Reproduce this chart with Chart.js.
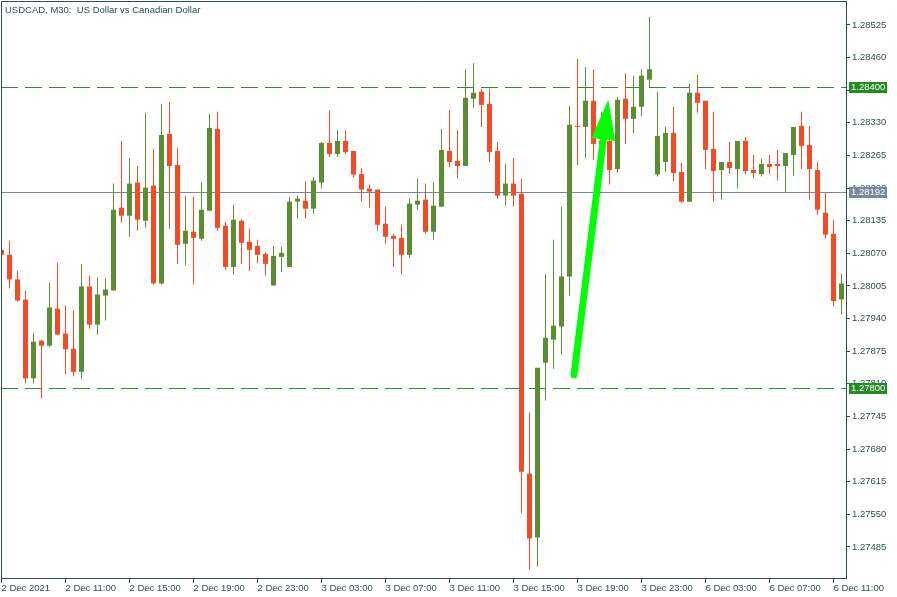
<!DOCTYPE html>
<html>
<head>
<meta charset="utf-8">
<script src="https://cdn.jsdelivr.net/npm/chart.js@4.4.0/dist/chart.umd.min.js"></script>
<style>
  html, body { margin: 0; padding: 0; background: #fff; }
</style>
</head>
<body>
<canvas id="chart" width="897" height="597"></canvas>
<script>
// USDCAD M30 candles, 2 Dec 07:00 .. 6 Dec 11:30 (index = candle number)
const opens = [
  1.28077, 1.28067, 1.28018, 1.27978, 1.27821, 1.27896, 1.27886, 1.27960, 1.27910, 1.27880,
  1.27834, 1.28004, 1.27928, 1.27986, 1.27996, 1.28161, 1.28145, 1.28211, 1.28135, 1.28205,
  1.28010, 1.28308, 1.28246, 1.28089, 1.28113, 1.28099, 1.28155, 1.28318, 1.28125, 1.28043,
  1.28135, 1.28093, 1.28085, 1.28069, 1.28006, 1.28063, 1.28043, 1.28173, 1.28175, 1.28159,
  1.28211, 1.28290, 1.28268, 1.28294, 1.28274, 1.28228, 1.28199, 1.28197, 1.28129, 1.28105,
  1.28101, 1.28067, 1.28167, 1.28177, 1.28113, 1.28163, 1.28274, 1.28254, 1.28244, 1.28378,
  1.28392, 1.28368, 1.28274, 1.28185, 1.28209, 1.28189, 1.27631, 1.27504, 1.27852, 1.27898,
  1.27924, 1.28024, 1.28324, 1.28322, 1.28374, 1.28288, 1.28294, 1.28238, 1.28378, 1.28338,
  1.28362, 1.28416, 1.28227, 1.28252, 1.28310, 1.28232, 1.28173, 1.28390, 1.28374, 1.28278,
  1.28236, 1.28252, 1.28238, 1.28294, 1.28236, 1.28228, 1.28248, 1.28248, 1.28244, 1.28266,
  1.28324, 1.28286, 1.28236, 1.28151, 1.28109, 1.27978
];
const highs = [
  1.28093, 1.28095, 1.28035, 1.27996, 1.27912, 1.27898, 1.28012, 1.28051, 1.27966, 1.27956,
  1.28049, 1.28026, 1.28022, 1.28020, 1.28209, 1.28294, 1.28260, 1.28244, 1.28350, 1.28278,
  1.28368, 1.28372, 1.28280, 1.28185, 1.28183, 1.28211, 1.28348, 1.28352, 1.28133, 1.28167,
  1.28137, 1.28119, 1.28097, 1.28071, 1.28085, 1.28083, 1.28183, 1.28185, 1.28213, 1.28221,
  1.28292, 1.28354, 1.28316, 1.28316, 1.28274, 1.28240, 1.28207, 1.28197, 1.28163, 1.28109,
  1.28127, 1.28179, 1.28219, 1.28209, 1.28211, 1.28318, 1.28356, 1.28316, 1.28437, 1.28449,
  1.28398, 1.28398, 1.28292, 1.28248, 1.28260, 1.28219, 1.27753, 1.27842, 1.28029, 1.28097,
  1.28163, 1.28364, 1.28457, 1.28441, 1.28437, 1.28352, 1.28320, 1.28382, 1.28429, 1.28424,
  1.28437, 1.28541, 1.28392, 1.28322, 1.28362, 1.28250, 1.28408, 1.28426, 1.28374, 1.28352,
  1.28252, 1.28292, 1.28294, 1.28302, 1.28266, 1.28258, 1.28266, 1.28276, 1.28270, 1.28322,
  1.28352, 1.28324, 1.28252, 1.28191, 1.28137, 1.28030
];
const lows = [
  1.28063, 1.28000, 1.27974, 1.27811, 1.27811, 1.27781, 1.27884, 1.27908, 1.27829, 1.27825,
  1.27819, 1.27920, 1.27908, 1.27936, 1.27996, 1.28131, 1.28103, 1.28115, 1.28121, 1.28008,
  1.28008, 1.28119, 1.28049, 1.28047, 1.28008, 1.28095, 1.28155, 1.28115, 1.28037, 1.28028,
  1.28049, 1.28035, 1.28051, 1.28026, 1.28006, 1.28033, 1.28043, 1.28139, 1.28139, 1.28149,
  1.28199, 1.28262, 1.28262, 1.28268, 1.28221, 1.28173, 1.28161, 1.28115, 1.28089, 1.28043,
  1.28028, 1.28061, 1.28157, 1.28109, 1.28097, 1.28163, 1.28242, 1.28219, 1.28244, 1.28360,
  1.28322, 1.28252, 1.28179, 1.28165, 1.28163, 1.27552, 1.27440, 1.27446, 1.27777, 1.27840,
  1.27868, 1.27986, 1.28246, 1.28260, 1.28256, 1.28276, 1.28207, 1.28230, 1.28288, 1.28310,
  1.28343, 1.28402, 1.28223, 1.28232, 1.28213, 1.28171, 1.28173, 1.28350, 1.28238, 1.28173,
  1.28177, 1.28228, 1.28199, 1.28227, 1.28219, 1.28223, 1.28228, 1.28215, 1.28193, 1.28225,
  1.28238, 1.28177, 1.28147, 1.28099, 1.27964, 1.27948
];
const closes = [
  1.28067, 1.28018, 1.27976, 1.27821, 1.27894, 1.27886, 1.27962, 1.27908, 1.27879, 1.27834,
  1.28004, 1.27928, 1.27988, 1.27998, 1.28157, 1.28145, 1.28209, 1.28137, 1.28201, 1.28010,
  1.28306, 1.28244, 1.28087, 1.28115, 1.28101, 1.28157, 1.28320, 1.28121, 1.28043, 1.28137,
  1.28091, 1.28077, 1.28067, 1.28049, 1.28065, 1.28071, 1.28173, 1.28179, 1.28159, 1.28215,
  1.28290, 1.28268, 1.28294, 1.28272, 1.28227, 1.28197, 1.28193, 1.28127, 1.28103, 1.28099,
  1.28067, 1.28169, 1.28175, 1.28113, 1.28165, 1.28276, 1.28252, 1.28244, 1.28380, 1.28390,
  1.28366, 1.28272, 1.28185, 1.28209, 1.28185, 1.27635, 1.27502, 1.27842, 1.27902, 1.27926,
  1.28024, 1.28326, 1.28322, 1.28374, 1.28288, 1.28294, 1.28236, 1.28376, 1.28338, 1.28362,
  1.28424, 1.28437, 1.28304, 1.28310, 1.28230, 1.28173, 1.28390, 1.28370, 1.28276, 1.28234,
  1.28252, 1.28240, 1.28294, 1.28234, 1.28230, 1.28248, 1.28242, 1.28244, 1.28270, 1.28322,
  1.28284, 1.28238, 1.28157, 1.28107, 1.27975, 1.28010
];

const xTickIndex = [0, 8, 16, 24, 32, 40, 48, 56, 64, 72, 80, 88, 96, 104];
const xTickLabels = ['2 Dec 2021', '2 Dec 11:00', '2 Dec 15:00', '2 Dec 19:00', '2 Dec 23:00',
  '3 Dec 03:00', '3 Dec 07:00', '3 Dec 11:00', '3 Dec 15:00', '3 Dec 19:00', '3 Dec 23:00',
  '6 Dec 03:00', '6 Dec 07:00', '6 Dec 11:00'];
const yTicks = [1.27485, 1.27550, 1.27615, 1.27680, 1.27745, 1.27810, 1.27875, 1.27940, 1.28005,
  1.28070, 1.28135, 1.28200, 1.28265, 1.28330, 1.28395, 1.28460, 1.28525];

const levelPrices = [1.28400, 1.28192, 1.27800];
const arrowFrom = [71.56, 1.27828];
const arrowTo = [75.85, 1.28376];
const title = 'USDCAD, M30:  US Dollar vs Canadian Dollar';

// styles
const UP = '#5B8E32', DOWN = '#F24B26', INK = '#2F4F4F', ARROW = '#00FF00';
const levelStyles = [
  { color: '#2E8B2E', box: '#228B22', dash: [17, 7] },
  { color: '#778899', box: '#778899', dash: [] },
  { color: '#22962A', box: '#228B22', dash: [17, 7] }
];
const FONT = '"Liberation Sans", Arial, sans-serif';
const FSIZE = 9.5;

const candleColor = (c) => closes[c.dataIndex] >= opens[c.dataIndex] ? UP : DOWN;

const wickData = highs.map((h, i) => ({ x: i, y: [lows[i], h] }));
const bodyData = opens.map((o, i) => ({ x: i, y: [o, closes[i]] }));

const overlay = {
  id: 'overlay',
  beforeDatasetsDraw(chart) {
    const { ctx: c, chartArea: a, scales: { y } } = chart;
    c.save();
    levelPrices.forEach((p, k) => {
      const yy = Math.floor(y.getPixelForValue(p)) + 0.5;
      c.strokeStyle = levelStyles[k].color;
      c.lineWidth = 1;
      c.setLineDash(levelStyles[k].dash);
      c.beginPath();
      c.moveTo(a.left, yy);
      c.lineTo(a.right, yy);
      c.stroke();
    });
    c.restore();
  },
  afterDatasetsDraw(chart) {
    const { ctx: c, scales: { x, y } } = chart;
    const x0 = x.getPixelForValue(arrowFrom[0]), y0 = y.getPixelForValue(arrowFrom[1]);
    const x1 = x.getPixelForValue(arrowTo[0]), y1 = y.getPixelForValue(arrowTo[1]);
    const len = Math.hypot(x1 - x0, y1 - y0);
    const ux = (x1 - x0) / len, uy = (y1 - y0) / len;
    const headLen = 40, headHalf = 12;
    const bx = x1 - ux * headLen, by = y1 - uy * headLen;
    c.save();
    c.strokeStyle = ARROW;
    c.fillStyle = ARROW;
    c.lineWidth = 7;
    c.lineCap = 'round';
    c.beginPath();
    c.moveTo(x0, y0);
    c.lineTo(bx + ux * 2, by + uy * 2);
    c.stroke();
    c.beginPath();
    c.moveTo(x1, y1);
    c.lineTo(bx - uy * headHalf, by + ux * headHalf);
    c.lineTo(bx + uy * headHalf, by - ux * headHalf);
    c.closePath();
    c.fill();
    c.restore();
  },
  afterDraw(chart) {
    const { ctx: c, chartArea: a, scales: { y } } = chart;
    c.save();
    // frame left + top
    c.strokeStyle = INK;
    c.lineWidth = 1;
    c.beginPath();
    c.moveTo(a.left + 0.5, a.bottom);
    c.lineTo(a.left + 0.5, a.top + 0.5);
    c.lineTo(a.right, a.top + 0.5);
    c.stroke();
    // price labels
    c.font = FSIZE + 'px ' + FONT;
    c.textBaseline = 'middle';
    levelPrices.forEach((p, k) => {
      const yy = Math.floor(y.getPixelForValue(p)) + 0.5;
      c.fillStyle = levelStyles[k].box;
      c.fillRect(a.right + 3, yy - 5.5, 38, 11);
      c.fillStyle = '#FFFFFF';
      c.fillText(p.toFixed(5), a.right + 5, yy);
    });
    // title
    c.fillStyle = INK;
    c.textBaseline = 'alphabetic';
    c.fillText(title, 5, 13);
    c.restore();
  }
};

const ctx = document.getElementById('chart');

const usdcadChart = new Chart(ctx, {
  type: 'bar',
  data: {
    datasets: [
      { label: 'wick', data: wickData, barThickness: 1, backgroundColor: candleColor,
        grouped: false, inflateAmount: 0, borderWidth: 0 },
      { label: 'body', data: bodyData, barThickness: 5, minBarLength: 1, backgroundColor: candleColor,
        grouped: false, inflateAmount: 0, borderWidth: 0 }
    ]
  },
  options: {
    responsive: false,
    animation: false,
    layout: { padding: { left: 1, top: 1, right: 0, bottom: 0 } },
    plugins: { legend: { display: false }, tooltip: { enabled: false } },
    scales: {
      x: {
        type: 'linear',
        min: -0.0625,
        max: 105.5625,
        offset: false,
        grid: { offset: false, drawOnChartArea: false, drawTicks: true, tickLength: 5, color: INK },
        border: { color: INK },
        ticks: {
          autoSkip: false, maxRotation: 0, minRotation: 0, align: 'start', padding: 0,
          color: INK, font: { family: FONT, size: FSIZE },
          callback: (v, i) => xTickLabels[i]
        },
        afterBuildTicks: (s) => { s.ticks = xTickIndex.map((v) => ({ value: v })); },
        afterFit: (s) => { s.height = 19; s.paddingLeft = 0; s.paddingRight = 0; }
      },
      y: {
        position: 'right',
        min: 1.274232,
        max: 1.285728,
        grid: { drawOnChartArea: false, drawTicks: true, tickLength: 4, color: INK },
        border: { color: INK },
        ticks: {
          autoSkip: false, padding: 2, color: INK, font: { family: FONT, size: FSIZE },
          callback: (v) => v.toFixed(5)
        },
        afterBuildTicks: (s) => { s.ticks = yTicks.map((v) => ({ value: v })); },
        afterFit: (s) => { s.width = 51; s.paddingTop = 0; s.paddingBottom = 0; }
      }
    }
  },
  plugins: [overlay]
});
</script>
</body>
</html>
